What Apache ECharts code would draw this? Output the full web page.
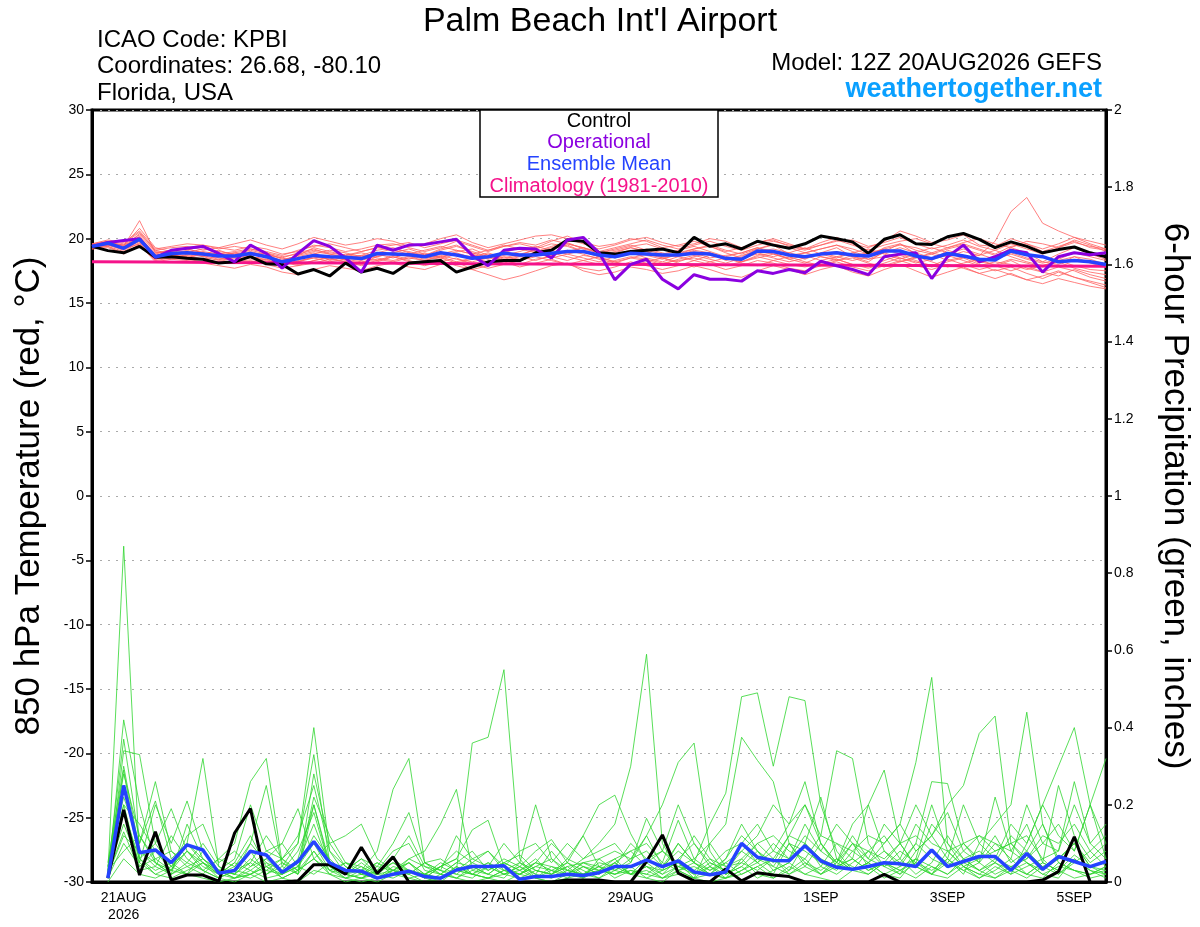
<!DOCTYPE html>
<html><head><meta charset="utf-8">
<script src="https://cdn.jsdelivr.net/npm/echarts@6/dist/echarts.min.js"></script>
<style>html,body{margin:0;padding:0;background:#fff}#c{width:1200px;height:927px}</style>
</head><body><div id="c"></div>
<script>
// x axis: hours since 12Z 20AUG2026
const tickHours = [12, 60, 108, 156, 204, 276, 324, 372];
const tickLabels = ['21AUG\n2026', '23AUG', '25AUG', '27AUG', '29AUG', '1SEP', '3SEP', '5SEP'];

// 850 hPa temperature (°C), 6-hourly from 12Z 20AUG
const controlTemp = [19.4,19.07,18.9,19.4,18.55,18.6,18.47,18.4,18.1,18.2,18.6,18.05,18.0,17.25,17.6,17.1,18.1,17.4,17.7,17.3,18.1,18.2,18.3,
17.4,17.8,18.2,18.3,18.3,18.9,19.1,19.9,19.8,18.9,18.8,19.0,19.1,19.2,18.9,20.1,19.4,19.6,19.2,19.8,
19.5,19.25,19.6,20.2,20.0,19.75,18.86,19.95,20.3,19.6,19.55,20.15,20.4,19.95,19.3,19.75,19.4,18.9,19.15,19.35,18.9,18.6];
const operationalTemp = [19.4,19.7,19.85,20.0,18.55,19.1,19.25,19.4,18.85,18.2,19.5,18.85,17.7,18.85,19.85,19.4,18.5,17.4,19.5,19.1,19.5,19.55,19.75,
19.95,18.7,17.9,19.1,19.25,19.2,18.5,19.9,20.1,18.9,16.8,18.0,18.4,16.85,16.1,17.2,16.85,16.85,16.7,17.5,17.3,
17.6,17.35,18.25,17.9,17.6,17.2,18.6,18.8,18.9,16.9,18.6,19.5,18.2,18.6,19.1,18.9,17.4,18.6,18.9,18.75,18.9];
const meanTemp = [19.4,19.65,19.25,19.95,18.6,18.85,18.9,18.8,18.65,18.65,18.85,18.6,18.2,18.45,18.7,18.6,18.55,18.45,18.85,18.8,18.75,18.6,18.9,
18.73,18.47,18.6,18.86,18.73,18.73,18.86,19.0,19.0,18.73,18.6,18.86,18.8,18.73,18.73,18.86,18.8,18.47,18.4,
19.04,19.0,18.73,18.6,18.8,18.9,18.73,18.65,19.04,19.04,18.65,18.45,18.85,18.65,18.4,18.35,19.04,18.75,18.6,18.2,18.3,18.2,18.0];
// climatology, daily at 12Z
const climTemp = [18.2,18.18,18.15,18.13,18.1,18.08,18.06,18.04,18.02,18.0,17.98,17.96,17.94,17.92,17.9,17.88,17.86];

const memberTemp1 = [19.5,19.8,19.4,21.4,18.9,19.0,19.2,18.9,18.7,18.9,19.1,18.8,18.5,18.9,19.2,18.8,18.6,18.7,19.1,19.3,18.9,18.7,19.2,19.5,18.9,18.5,19.0,18.7,19.2,19.6,19.4,19.0,18.6,18.9,19.3,19.0,18.5,18.7,19.1,18.9,18.3,18.6,19.2,19.5,18.8,18.4,18.9,19.3,18.6,18.2,19.0,19.6,18.8,18.3,19.1,18.7,18.1,18.5,19.3,18.9,18.2,18.0,18.6,18.4,18.0];
const memberTemp2 = [19.6,19.9,19.7,20.6,19.2,19.4,19.6,19.5,19.3,19.6,19.9,19.5,19.2,19.6,20.1,19.8,19.5,19.7,20.0,19.8,19.4,19.6,20.0,20.3,19.7,19.3,19.6,19.9,20.2,20.3,20.0,19.6,19.2,19.5,19.9,20.1,19.7,19.4,19.6,20.0,19.8,19.3,19.7,20.0,19.6,19.2,19.7,20.1,19.6,19.3,19.8,20.6,20.2,19.7,19.9,20.3,19.5,19.4,20.0,19.6,19.2,19.6,20.1,19.8,19.5];
const memberTemp3 = [19.2,19.3,18.9,19.5,18.2,18.4,18.3,18.1,17.9,17.7,18.0,17.8,17.4,17.2,17.6,17.9,17.7,17.5,17.9,18.1,17.8,17.6,18.0,18.2,17.6,17.2,16.8,17.1,17.5,17.9,18.1,17.5,17.2,17.4,17.8,17.6,17.3,17.5,17.9,17.6,17.2,17.0,17.5,17.9,17.6,17.2,17.6,17.9,17.4,17.1,17.6,18.0,17.5,17.0,17.4,17.8,17.3,16.9,17.3,16.8,16.5,16.9,16.6,16.3,16.1];
const memberTemp4 = [19.4,19.6,19.3,20.2,18.7,18.9,19.0,18.6,18.8,18.5,18.7,18.9,18.4,18.6,18.9,18.3,18.6,18.4,18.8,18.5,18.9,18.6,18.4,18.8,18.6,18.9,18.5,18.8,19.1,18.7,19.0,19.3,18.9,18.5,18.8,19.2,18.9,18.6,18.9,18.5,18.7,18.9,19.3,18.8,18.5,18.9,18.6,18.3,18.7,18.9,19.2,18.8,18.5,18.9,18.6,19.0,18.7,19.8,22.1,23.2,21.2,20.6,20.1,19.6,19.2];
const memberTemp5 = [19.3,19.5,19.1,19.8,18.5,18.7,18.6,18.9,18.5,18.3,18.6,18.4,17.9,18.2,18.5,18.7,18.3,18.1,18.6,18.9,18.6,18.3,18.7,18.4,18.2,18.5,18.9,18.6,18.3,18.7,19.1,18.8,18.4,18.1,18.5,18.8,18.5,18.2,18.6,18.9,18.5,18.2,18.7,18.9,18.4,18.1,18.6,18.4,18.0,17.8,18.3,18.7,18.3,17.9,18.4,18.0,17.6,17.9,18.3,17.7,17.4,17.8,17.5,17.0,16.7];
const memberTemp6 = [19.5,19.7,19.5,20.3,19.0,18.8,18.9,19.2,19.0,18.8,18.6,18.3,18.1,18.4,18.8,19.1,18.9,18.6,18.9,19.2,19.0,18.7,19.1,19.4,19.0,18.6,18.9,19.3,19.0,19.4,19.7,19.2,18.9,19.2,19.5,19.1,18.8,19.1,19.4,19.0,18.6,18.9,19.3,19.0,18.7,18.9,19.2,19.5,19.0,18.6,19.3,19.6,19.1,18.8,19.2,19.5,19.1,18.7,18.9,18.5,18.2,18.8,19.3,18.8,18.4];
const memberTemp7 = [19.3,19.4,19.0,19.7,18.4,18.6,18.7,18.4,18.6,18.9,18.6,18.2,18.0,18.3,18.5,18.2,18.4,18.7,18.5,18.3,18.6,18.9,18.5,18.1,18.4,18.6,18.3,18.0,18.4,18.6,18.3,18.7,18.5,18.2,18.5,18.3,18.0,18.4,18.7,18.4,18.1,18.5,18.8,18.5,18.2,18.5,18.9,18.6,18.3,18.6,18.9,18.5,18.1,18.4,18.7,18.3,17.9,18.2,18.0,17.6,17.9,18.2,17.7,17.4,17.2];
const memberTemp8 = [19.6,19.8,19.6,20.5,19.1,19.3,19.4,19.1,19.3,19.1,19.4,19.2,18.8,19.0,19.5,19.3,19.0,19.2,19.5,19.6,19.3,19.0,19.3,19.8,19.4,19.0,19.4,19.6,19.3,19.8,20.2,19.7,19.4,19.6,20.0,19.8,19.3,19.5,19.8,19.4,19.0,19.3,19.7,19.9,19.4,19.1,19.5,19.8,19.9,19.4,19.7,20.1,19.6,19.2,19.5,19.9,19.4,19.1,19.6,19.2,18.8,19.3,19.9,19.5,19.0];
const memberTemp9 = [19.2,19.4,18.8,19.6,18.3,18.5,18.4,18.2,18.4,18.1,18.3,18.0,17.7,17.9,18.1,18.4,18.2,17.9,18.2,18.6,18.3,18.0,18.3,17.9,17.6,17.9,18.2,17.8,18.1,18.4,18.0,17.7,17.5,17.8,18.2,17.9,17.6,17.9,18.3,18.0,17.6,17.9,18.3,18.1,17.7,17.5,17.9,18.2,17.8,17.5,17.9,18.3,17.9,17.6,18.0,17.7,17.3,17.6,17.2,16.8,17.1,17.5,17.0,16.7,16.4];
const memberTemp10 = [19.4,19.7,19.3,20.0,18.8,19.1,19.2,18.9,18.6,18.8,19.0,18.7,18.3,18.7,19.0,18.8,18.5,18.3,18.7,18.9,18.7,18.4,18.8,19.1,18.8,18.4,18.7,19.0,19.4,19.1,18.8,19.1,18.7,19.0,19.3,19.0,18.6,18.8,19.0,18.8,18.4,18.7,19.0,19.2,18.9,18.6,18.8,19.0,18.6,18.4,18.9,19.3,18.9,18.5,18.8,19.2,18.8,18.4,18.8,18.4,18.1,18.4,18.9,18.6,18.3];
const memberTemp11 = [19.3,19.5,19.2,19.9,18.6,18.4,18.8,18.6,18.3,18.5,18.2,18.4,18.2,17.9,18.3,18.6,18.4,18.2,18.4,18.2,18.5,18.3,18.6,18.9,18.5,18.2,18.6,18.4,18.7,18.9,18.6,18.3,18.0,18.3,18.6,18.4,18.1,18.3,18.5,18.2,17.9,18.2,18.6,18.3,18.0,17.8,18.1,18.4,18.0,17.7,18.1,18.5,18.2,17.8,18.2,18.5,18.0,17.5,17.8,17.3,16.9,17.4,17.0,16.6,16.2];
const memberTemp12 = [19.5,19.6,19.4,20.1,18.9,19.1,18.8,19.0,18.8,19.0,19.2,18.9,18.6,18.8,19.1,18.9,18.7,19.0,19.3,19.1,18.8,19.1,19.4,19.1,18.8,19.1,19.5,19.2,18.9,19.3,19.6,19.3,18.9,19.1,19.4,19.6,19.2,18.9,19.2,19.5,19.1,18.8,19.2,19.6,19.3,18.9,19.2,19.5,19.2,18.8,19.2,19.5,19.3,18.9,19.3,19.6,19.2,18.8,19.4,19.6,19.0,19.4,19.8,19.3,19.1];
const memberTemp13 = [19.4,19.5,19.5,20.0,18.8,18.6,18.9,18.7,18.9,18.6,18.4,18.7,18.5,18.2,18.6,18.4,18.8,18.5,18.3,18.7,18.4,18.8,18.6,18.2,18.5,18.8,18.4,18.7,18.9,18.5,18.8,18.5,18.2,18.6,18.9,18.5,18.2,18.6,18.3,18.7,18.5,18.2,18.5,18.8,18.4,18.7,18.3,18.6,18.9,18.4,18.6,18.2,18.5,18.8,18.3,18.6,18.2,18.0,18.4,18.1,17.8,18.3,17.9,17.6,17.5];
const memberTemp14 = [19.5,19.6,19.3,20.4,19.1,18.8,18.5,18.8,19.1,18.7,18.9,18.6,18.3,18.7,19.3,19.0,18.7,18.9,18.6,18.9,19.2,18.8,18.5,19.0,19.2,18.7,18.3,18.6,18.9,19.2,19.5,19.0,18.6,18.8,19.1,18.7,18.4,18.8,19.2,19.4,18.9,18.5,18.9,18.6,18.9,19.3,18.8,18.5,18.9,19.2,18.8,18.4,18.9,19.3,18.9,18.5,18.7,19.1,18.6,18.2,17.9,18.3,18.6,18.1,17.8];
const memberTemp15 = [19.3,19.6,19.2,19.6,18.4,18.8,19.1,18.7,18.4,18.6,18.9,18.5,18.2,18.0,18.3,18.5,18.2,18.0,18.3,18.6,18.2,17.9,18.2,18.5,18.0,17.7,18.0,18.3,18.6,18.3,18.0,18.3,18.6,18.2,17.9,18.2,18.5,18.1,17.8,18.2,18.5,18.1,17.9,18.3,18.6,18.2,17.9,18.3,18.5,18.1,17.8,18.2,18.6,18.2,17.8,18.1,18.4,17.9,17.5,17.9,17.4,17.1,17.6,17.2,16.9];
const memberTemp16 = [19.6,19.7,19.5,20.8,19.3,19.0,19.3,19.5,19.2,19.4,19.2,19.0,18.7,19.1,19.4,19.6,19.3,19.0,19.3,19.5,19.7,19.3,19.6,19.9,19.5,19.1,19.4,19.7,19.5,19.9,19.6,19.3,19.0,19.3,19.6,19.9,19.5,19.2,19.5,19.8,19.4,19.1,19.5,19.8,19.5,19.2,19.5,19.9,19.5,19.1,19.5,19.8,20.0,19.6,19.3,19.7,20.0,19.6,19.3,19.8,19.6,19.3,19.7,19.4,19.2];

// 6-hour precipitation (inches), 6-hourly from 18Z 20AUG
const controlPrecip = [0.01,0.187,0.018,0.13,0.005,0.018,0.018,0.002,0.127,0.19,0,0,0.003,0.045,0.045,0.02,0.09,0.022,0.065,0,0,0,
0,0,0,0,0,0,0,0.005,0.005,0.005,0,0,0.053,0.122,0.023,0.003,0,0.034,0.003,0.024,0.018,0.014,
0,0,0,0,0,0.02,0,0,0,0,0,0,0,0,0,0.005,0.027,0.117,0];
const meanPrecip = [0.01,0.25,0.076,0.083,0.05,0.096,0.083,0.023,0.03,0.08,0.07,0.025,0.053,0.105,0.05,0.03,0.028,0.01,0.02,0.028,0.014,0.01,
0.031,0.04,0.04,0.042,0.007,0.014,0.014,0.02,0.017,0.024,0.04,0.04,0.057,0.04,0.055,0.026,0.019,0.026,0.1,0.064,0.056,0.055,
0.094,0.055,0.038,0.033,0.04,0.05,0.047,0.04,0.083,0.04,0.053,0.066,0.066,0.03,0.074,0.033,0.066,0.053,0.04,0.053];

const memberPrecip1 = [0.02,0.87,0.06,0.02,0.01,0.03,0.05,0.01, 0,0.02,0.05,0.01,0,0.03,0.02,0, 0.01,0,0.02,0.05,0.01,0,0.03,0.36, 0.375,0.55,0.06,0.01,0,0.02,0.01,0.03, 0.05,0.02,0.01,0,0.03,0.05,0.02,0.01, 0.06,0.02,0.01,0.04,0.02,0.01,0,0.03, 0.05,0.02,0.01,0.06,0.02,0.01,0.04,0.02, 0.01,0.03,0.05,0.02,0.01,0.06,0.03,0.02];
const memberPrecip2 = [0.01,0.42,0.2,0.05,0.03,0.1,0.32,0.04, 0.02,0.01,0.03,0.06,0.1,0.40,0.08,0.02, 0.01,0.03,0.05,0.02,0,0.01,0.04,0.02, 0.01,0.03,0.05,0.02,0.08,0.03,0.06,0.1, 0.15,0.3,0.59,0.1,0.03,0.01,0.02,0.05, 0.02,0.04,0.01,0.03,0.06,0.02,0.05,0.1, 0.04,0.01,0.03,0.05,0.02,0.08,0.04,0.01, 0.03,0.06,0.02,0.01,0.05,0.03,0.02,0.04];
const memberPrecip3 = [0.03,0.37,0.1,0.26,0.08,0.04,0.02,0.06, 0.1,0.26,0.32,0.05,0.02,0.2,0.04,0.01, 0.03,0.02,0.06,0.03,0.01,0.04,0.02,0.01, 0.04,0.02,0.01,0.03,0.02,0.05,0.03,0.01, 0.04,0.02,0.06,0.03,0.1,0.05,0.15,0.23, 0.48,0.49,0.3,0.48,0.47,0.2,0.08,0.03, 0.02,0.05,0.03,0.01,0.04,0.02,0.06,0.03, 0.01,0.04,0.02,0.05,0.03,0.01,0.02,0.03];
const memberPrecip4 = [0.01,0.34,0.33,0.1,0.04,0.02,0.05,0.03, 0.01,0.02,0.04,0.01,0.03,0.08,0.02,0.05, 0.03,0.08,0.24,0.32,0.05,0.02,0.01,0.03, 0.02,0.05,0.03,0.01,0.04,0.02,0.05,0.03, 0.02,0.04,0.01,0.03,0.05,0.02,0.04,0.01, 0.03,0.05,0.02,0.1,0.04,0.02,0.06,0.03, 0.05,0.1,0.15,0.31,0.53,0.1,0.04,0.02, 0.05,0.03,0.01,0.04,0.02,0.06,0.03,0.01];
const memberPrecip5 = [0.05,0.30,0.08,0.04,0.12,0.06,0.03,0.01, 0.03,0.05,0.02,0.04,0.1,0.33,0.05,0.02, 0.04,0.01,0.03,0.02,0.05,0.03,0.01,0.04, 0.02,0.01,0.05,0.03,0.02,0.04,0.01,0.06, 0.03,0.05,0.12,0.2,0.31,0.36,0.08,0.02, 0.04,0.01,0.03,0.05,0.02,0.04,0.1,0.06, 0.03,0.05,0.02,0.08,0.12,0.2,0.25,0.385, 0.43,0.1,0.05,0.02,0.04,0.03,0.01,0.02];
const memberPrecip6 = [0.02,0.29,0.05,0.2,0.1,0.21,0.08,0.03, 0.02,0.1,0.25,0.04,0.02,0.28,0.1,0.04, 0.02,0.05,0.03,0.01,0.02,0.04,0.06,0.02, 0.01,0.03,0.02,0.05,0.03,0.01,0.04,0.02, 0.05,0.02,0.03,0.01,0.04,0.02,0.05,0.03, 0.1,0.05,0.08,0.15,0.2,0.12,0.34,0.32, 0.1,0.04,0.02,0.05,0.03,0.06,0.02,0.1, 0.15,0.2,0.44,0.15,0.05,0.03,0.02,0.04];
const memberPrecip7 = [0.01,0.25,0.06,0.1,0.19,0.08,0.04,0.02, 0.05,0.03,0.01,0.02,0.04,0.1,0.03,0.02, 0.05,0.02,0.03,0.06,0.08,0.15,0.24,0.03, 0.05,0.02,0.04,0.01,0.03,0.05,0.02,0.04, 0.01,0.03,0.02,0.05,0.03,0.01,0.04,0.02, 0.05,0.03,0.06,0.02,0.04,0.1,0.05,0.15, 0.2,0.29,0.1,0.04,0.02,0.05,0.03,0.01, 0.04,0.02,0.1,0.2,0.30,0.40,0.2,0.06];
const memberPrecip8 = [0.04,0.22,0.1,0.21,0.06,0.1,0.05,0.02, 0.01,0.04,0.08,0.06,0.12,0.25,0.08,0.04, 0.02,0.01,0.04,0.03,0.02,0.05,0.03,0.06, 0.04,0.1,0.05,0.2,0.06,0.02,0.04,0.03, 0.06,0.02,0.04,0.03,0.05,0.01,0.1,0.15, 0.375,0.315,0.26,0.1,0.05,0.02,0.04,0.06, 0.03,0.05,0.1,0.04,0.02,0.06,0.03,0.05, 0.02,0.04,0.06,0.1,0.15,0.08,0.2,0.32];
const memberPrecip9 = [0.02,0.2,0.04,0.08,0.03,0.12,0.15,0.05, 0.08,0.04,0.06,0.1,0.19,0.06,0.03,0.05, 0.04,0.02,0.05,0.03,0.01,0.04,0.06,0.135, 0.16,0.04,0.02,0.05,0.1,0.06,0.12,0.2, 0.225,0.125,0.05,0.02,0.04,0.03,0.06,0.02, 0.04,0.08,0.03,0.05,0.1,0.22,0.06,0.03, 0.05,0.02,0.04,0.1,0.26,0.255,0.1,0.05, 0.22,0.08,0.05,0.03,0.06,0.1,0.04,0.02];
const memberPrecip10 = [0.03,0.15,0.05,0.02,0.04,0.08,0.03,0.06, 0.04,0.08,0.02,0.05,0.03,0.06,0.1,0.12, 0.15,0.06,0.03,0.05,0.02,0.04,0.08,0.05, 0.03,0.06,0.04,0.08,0.11,0.05,0.12,0.04, 0.06,0.08,0.1,0.05,0.16,0.06,0.03,0.05, 0.08,0.12,0.2,0.15,0.26,0.1,0.04,0.06, 0.2,0.08,0.05,0.1,0.06,0.04,0.08,0.05, 0.1,0.06,0.2,0.1,0.08,0.26,0.1,0.06];
const memberPrecip11 = [0.02,0.12,0.08,0.05,0.02,0.04,0.06,0.03, 0.06,0.2,0.08,0.1,0.04,0.02,0.05,0.03, 0.06,0.04,0.1,0.18,0.05,0.03,0.12,0.06, 0.08,0.04,0.08,0.1,0.05,0.1,0.06,0.08, 0.1,0.05,0.165,0.08,0.04,0.06,0.1,0.04, 0.06,0.1,0.12,0.08,0.06,0.12,0.1,0.08, 0.12,0.1,0.15,0.08,0.12,0.06,0.2,0.1, 0.06,0.15,0.1,0.2,0.12,0.08,0.2,0.1];
const memberPrecip12 = [0.01,0.1,0.04,0.06,0.08,0.05,0.1,0.04, 0.02,0.06,0.03,0.02,0.05,0.15,0.04,0.02, 0.01,0.03,0.08,0.1,0.03,0.02,0.05,0.04, 0.02,0.05,0.03,0.06,0.02,0.04,0.05,0.06, 0.08,0.06,0.12,0.04,0.08,0.05,0.02,0.06, 0.15,0.08,0.05,0.12,0.1,0.06,0.04,0.1, 0.08,0.12,0.06,0.15,0.1,0.08,0.1,0.12, 0.08,0.1,0.06,0.12,0.1,0.15,0.08,0.12];
const memberPrecip13 = [0,0.06,0.02,0.01,0.03,0.02,0.01,0, 0.01,0.02,0,0.01,0.03,0.06,0.02,0.01, 0,0.01,0.02,0.01,0,0.02,0.01,0, 0.01,0,0.02,0.01,0,0.01,0.02,0.01, 0.03,0.02,0.04,0.01,0.02,0.01,0,0.01, 0.02,0.04,0.06,0.03,0.1,0.04,0.02,0.05, 0.08,0.04,0.06,0.02,0.05,0.12,0.06,0.03, 0.05,0.02,0.04,0.06,0.02,0.05,0.08,0.04];
const memberPrecip14 = [0.03,0.08,0.12,0.05,0.02,0.15,0.06,0.02, 0.05,0.12,0.04,0.02,0.06,0.2,0.05,0.03, 0.06,0.02,0.01,0.03,0.02,0.01,0.04,0.02, 0.05,0.03,0.02,0.04,0.06,0.03,0.02,0.05, 0.04,0.1,0.06,0.08,0.2,0.1,0.04,0.08, 0.1,0.15,0.08,0.06,0.12,0.08,0.15,0.1, 0.06,0.15,0.1,0.2,0.12,0.18,0.08,0.12, 0.1,0.08,0.15,0.05,0.25,0.12,0.06,0.1];
const memberPrecip15 = [0.02,0.18,0.06,0.03,0.05,0.02,0.08,0.03, 0.01,0.03,0.06,0.02,0.04,0.12,0.06,0.02, 0.03,0.05,0.02,0.06,0.04,0.02,0.05,0.08, 0.03,0.05,0.07,0.03,0.02,0.06,0.04,0.02, 0.05,0.08,0.04,0.02,0.06,0.1,0.05,0.03, 0.08,0.05,0.1,0.06,0.15,0.08,0.05,0.12, 0.06,0.04,0.08,0.05,0.15,0.1,0.06,0.08, 0.05,0.12,0.08,0.04,0.06,0.1,0.05,0.08];
const memberPrecip16 = [0.04,0.28,0.12,0.06,0.03,0.08,0.05,0.02, 0.04,0.1,0.05,0.03,0.08,0.18,0.04,0.02, 0.01,0.02,0.06,0.12,0.04,0.03,0.02,0.05, 0.08,0.03,0.02,0.04,0.03,0.02,0.05,0.04, 0.03,0.06,0.08,0.04,0.1,0.05,0.03,0.06, 0.12,0.08,0.04,0.1,0.08,0.05,0.03,0.08, 0.05,0.08,0.04,0.06,0.2,0.08,0.04,0.06, 0.12,0.05,0.08,0.15,0.06,0.1,0.04,0.05];
const memberPrecip17 = [0.01,0.2,0.15,0.08,0.04,0.1,0.06,0.03, 0.02,0.05,0.12,0.06,0.03,0.22,0.12,0.05, 0.02,0.04,0.03,0.02,0.05,0.06,0.03,0.02, 0.04,0.02,0.03,0.05,0.04,0.03,0.02,0.03, 0.02,0.04,0.05,0.08,0.05,0.12,0.06,0.04, 0.05,0.1,0.06,0.12,0.2,0.1,0.05,0.03, 0.08,0.06,0.1,0.12,0.08,0.05,0.1,0.06, 0.08,0.1,0.12,0.06,0.08,0.2,0.1,0.15];
const memberPrecip18 = [0.02,0.13,0.03,0.04,0.02,0.05,0.03,0.01, 0.03,0.02,0.04,0.06,0.02,0.08,0.03,0.01, 0.02,0.01,0.03,0.05,0.02,0.01,0.03,0.02, 0.01,0.02,0.04,0.02,0.01,0.03,0.02,0.04, 0.02,0.03,0.02,0.01,0.03,0.04,0.02,0.01, 0.03,0.06,0.04,0.02,0.05,0.03,0.06,0.04, 0.02,0.05,0.03,0.06,0.04,0.02,0.05,0.03, 0.06,0.04,0.02,0.05,0.03,0.07,0.04,0.03];

const memberTemps = [memberTemp1,memberTemp2,memberTemp3,memberTemp4,memberTemp5,memberTemp6,memberTemp7,memberTemp8,memberTemp9,memberTemp10,memberTemp11,memberTemp12,memberTemp13,memberTemp14,memberTemp15,memberTemp16];
const memberPrecips = [memberPrecip1,memberPrecip2,memberPrecip3,memberPrecip4,memberPrecip5,memberPrecip6,memberPrecip7,memberPrecip8,memberPrecip9,memberPrecip10,memberPrecip11,memberPrecip12,memberPrecip13,memberPrecip14,memberPrecip15,memberPrecip16,memberPrecip17,memberPrecip18];

const FONT = 'Liberation Sans, Arial, Helvetica, sans-serif';
function pts(arr, start, step) { return arr.map((v, i) => [start + i * step, v]); }
function line(name, data, color, width, yIdx, z) {
  return { name, type: 'line', data, yAxisIndex: yIdx, showSymbol: false, symbol: 'none', silent: true, z: z,
    lineStyle: { color, width }, emphasis: { disabled: true } };
}

const series = [];
memberTemps.forEach((m, k) => series.push(line('t' + k, pts(m, 0, 6), '#ff6060', 0.8, 0, 2)));
memberPrecips.forEach((m, k) => series.push(line('p' + k, pts(m, 6, 6), '#2fd62f', 0.8, 1, 2)));
series.push(line('Climatology', pts(climTemp, 0, 24), '#f5128a', 3, 0, 3));
series.push(line('ControlT', pts(controlTemp, 0, 6), '#000000', 3, 0, 4));
series.push(line('ControlP', pts(controlPrecip, 6, 6), '#000000', 3, 1, 4));
series.push(line('Operational', pts(operationalTemp, 0, 6), '#8a00e0', 3, 0, 5));
series.push(line('MeanT', pts(meanTemp, 0, 6), '#2443ff', 3.5, 0, 6));
series.push(line('MeanP', pts(meanPrecip, 6, 6), '#2443ff', 3.5, 1, 6));

const chart = echarts.init(document.getElementById('c'), null, { renderer: 'canvas' });
chart.setOption({
  animation: false,
  backgroundColor: '#fff',
  textStyle: { fontFamily: FONT },
  title: { text: "Palm Beach Int'l Airport", left: 'center', top: 0,
    textStyle: { fontFamily: FONT, fontSize: 34, fontWeight: 'normal', color: '#000' } },
  grid: { left: 92, right: 93, top: 110, bottom: 45, show: true, borderColor: '#000', borderWidth: 3, backgroundColor: 'transparent' },
  xAxis: {
    type: 'value', min: 0, max: 384, interval: 12,
    axisLine: { show: true, onZero: false, lineStyle: { color: '#000', width: 3 } },
    axisTick: { show: false },
    splitLine: { show: false },
    axisLabel: { color: '#000', fontSize: 14, fontFamily: FONT, margin: 8, lineHeight: 17,
      formatter: v => { const k = tickHours.indexOf(v); return k >= 0 ? tickLabels[k] : ''; } }
  },
  yAxis: [
    { type: 'value', min: -30, max: 30, interval: 5, position: 'left',
      name: '850 hPa Temperature (red, \u00B0C)', nameLocation: 'middle', nameGap: 45, nameRotate: 90,
      nameTextStyle: { fontSize: 35, color: '#000', fontFamily: FONT },
      axisLine: { show: true, onZero: false, lineStyle: { color: '#000', width: 3 } },
      axisTick: { show: true, length: 6, lineStyle: { color: '#000', width: 1.5 } },
      axisLabel: { color: '#000', fontSize: 14, fontFamily: FONT, margin: 8 },
      splitLine: { show: true, lineStyle: { color: '#aaaaaa', width: 1.2, type: [2, 6] } } },
    { type: 'value', min: 0, max: 2, interval: 0.2, position: 'right',
      name: '6-hour Precipitation (green, inches)', nameLocation: 'middle', nameGap: 51, nameRotate: -90,
      nameTextStyle: { fontSize: 35, color: '#000', fontFamily: FONT },
      axisLine: { show: true, onZero: false, lineStyle: { color: '#000', width: 3 } },
      axisTick: { show: true, length: 6, lineStyle: { color: '#000', width: 1.5 } },
      axisLabel: { color: '#000', fontSize: 14, fontFamily: FONT, margin: 8 },
      splitLine: { show: false } }
  ],
  graphic: [
    { type: 'text', x: 97, y: 40, style: { text: 'ICAO Code: KPBI', font: '24px ' + FONT, fill: '#000', verticalAlign: 'middle' } },
    { type: 'text', x: 97, y: 66, style: { text: 'Coordinates: 26.68, -80.10', font: '24px ' + FONT, fill: '#000', verticalAlign: 'middle' } },
    { type: 'text', x: 97, y: 93, style: { text: 'Florida, USA', font: '24px ' + FONT, fill: '#000', verticalAlign: 'middle' } },
    { type: 'text', x: 1102, y: 63, style: { text: 'Model: 12Z 20AUG2026 GEFS', font: '24px ' + FONT, fill: '#000', align: 'right', verticalAlign: 'middle' } },
    { type: 'text', x: 1102, y: 90, style: { text: 'weathertogether.net', font: 'bold 27px ' + FONT, fill: '#0aa0ff', align: 'right', verticalAlign: 'middle' } },
    { type: 'rect', shape: { x: 480, y: 110, width: 238, height: 87 }, style: { fill: '#fff', stroke: '#000', lineWidth: 1.5 }, z: 100 },
    { type: 'text', x: 599, y: 121, z: 101, style: { text: 'Control', font: '20px ' + FONT, fill: '#000', align: 'center', verticalAlign: 'middle' } },
    { type: 'text', x: 599, y: 142, z: 101, style: { text: 'Operational', font: '20px ' + FONT, fill: '#8a00e0', align: 'center', verticalAlign: 'middle' } },
    { type: 'text', x: 599, y: 164, z: 101, style: { text: 'Ensemble Mean', font: '20px ' + FONT, fill: '#2443ff', align: 'center', verticalAlign: 'middle' } },
    { type: 'text', x: 599, y: 186, z: 101, style: { text: 'Climatology (1981-2010)', font: '20px ' + FONT, fill: '#f5128a', align: 'center', verticalAlign: 'middle' } }
  ],
  series
});
</script>
</body></html>
